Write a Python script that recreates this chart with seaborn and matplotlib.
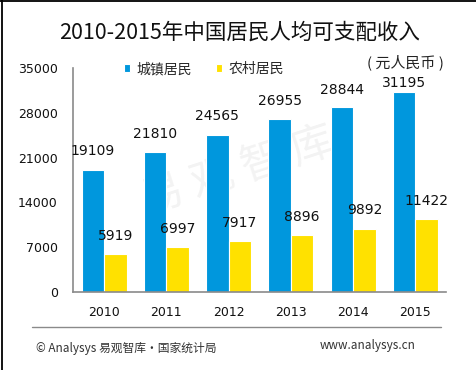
import pandas as pd
import numpy as np
import matplotlib
matplotlib.use("Agg")
import matplotlib.pyplot as plt
import seaborn as sns
from matplotlib.lines import Line2D

# data
years = ['2010', '2011', '2012', '2013', '2014', '2015']
urban = [19109, 21810, 24565, 26955, 28844, 31195]
rural = [5919, 6997, 7917, 8896, 9892, 11422]
series_names = ['城镇居民', '农村居民']
yticks = [0, 7000, 14000, 21000, 28000, 35000]

df = pd.DataFrame({
    'year': years * 2,
    'income': urban + rural,
    'group': [series_names[0]] * len(years) + [series_names[1]] * len(years),
})

sns.set_style('white')
plt.rcParams['font.family'] = ['Noto Sans CJK SC', 'DejaVu Sans']

fig = plt.figure(figsize=(4.76, 3.70), dpi=100)
ax = fig.add_axes([0.1534, 0.2108, 0.7846, 0.6054])
ax.patch.set_alpha(0)

palette = {series_names[0]: '#0097DD', series_names[1]: '#FFE100'}
sns.barplot(data=df, x='year', y='income', hue='group', palette=palette,
            width=0.72, edgecolor='white', linewidth=0.8, saturation=1,
            ax=ax, legend=True)

# watermark, behind the bars
fig.text(238 / 476, 1 - 171 / 370, '易 观 智 库', fontsize=31, color='#000000',
         alpha=0.05, rotation=18, ha='center', va='center', zorder=-1)

# value labels (the 2015 urban label sits lower in the original, to clear the unit text)
for ci, cont in enumerate(ax.containers):
    for bi, bar in enumerate(cont):
        h = bar.get_height()
        dy = 10.3
        if ci == 0 and bi == len(cont) - 1:
            dy = 4
        elif ci == 0 and bi == len(cont) - 2:
            dy = 9.5
        ax.annotate(f'{int(round(h))}', (bar.get_x() + bar.get_width() / 2, h),
                    xytext=(0, dy), textcoords='offset points',
                    ha='center', va='baseline', fontsize=10, color='#111111',
                    family='DejaVu Sans')

ax.set_ylim(0, 35000)
ax.set_xlim(-0.5, 5.5)
ax.set_yticks(yticks)
ax.set_xlabel('')
ax.set_ylabel('')
for s in ['top', 'right']:
    ax.spines[s].set_visible(False)
for s in ['left', 'bottom']:
    ax.spines[s].set_color('#8a8a8a')
    ax.spines[s].set_linewidth(1.2)
ax.tick_params(axis='y', direction='in', length=3, width=1, color='#8a8a8a',
               pad=11, labelsize=9, labelcolor='#111111')
ax.tick_params(axis='x', length=0, pad=10, labelsize=9, labelcolor='#111111')
for lab in ax.get_xticklabels() + ax.get_yticklabels():
    lab.set_family('DejaVu Sans')

handles, labels = ax.get_legend_handles_labels()
ax.legend(handles, labels, loc='center left', bbox_to_anchor=(124 / 476, 1 - 69 / 370),
          bbox_transform=fig.transFigure, ncol=2, frameon=False, fontsize=10,
          handlelength=0.45, handleheight=0.45, handletextpad=0.45,
          columnspacing=1.7, borderaxespad=0, borderpad=0)

fig.text(0.503, 0.911, '2010-2015年中国居民人均可支配收入', fontsize=15.5,
         ha='center', va='center', color='#111111')
fig.text(405 / 476, 1 - 62.5 / 370, '( 元人民币 )', fontsize=10.8, ha='center',
         va='center', color='#222222')

# footer
fig.add_artist(Line2D([32 / 476, 441 / 476], [1 - 327 / 370] * 2,
                      transform=fig.transFigure, color='#8a8a8a', lw=1))
fig.text(36 / 476, 1 - 348 / 370, '© Analysys 易观智库·国家统计局', fontsize=8.5,
         ha='left', va='center', color='#333333')
fig.text(416 / 476, 1 - 346 / 370, 'www.analysys.cn', fontsize=8.5,
         ha='right', va='center', color='#333333')

# frame on left and top
fig.add_artist(Line2D([2.2 / 476, 2.2 / 476], [0, 1], transform=fig.transFigure,
                      color='black', lw=1.3))
fig.add_artist(Line2D([0, 1], [1 - 0.6 / 370] * 2, transform=fig.transFigure,
                      color='black', lw=1.3))

fig.savefig('out.png', dpi=100)
